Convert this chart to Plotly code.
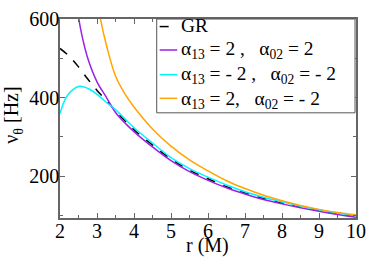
import plotly.graph_objects as go

# ---- data ----
r_gr = [2, 2.25, 2.5, 2.75, 3, 3.25, 3.5, 4, 4.5, 5, 5.5, 6, 6.5, 7, 7.5, 8, 8.5, 9, 9.5, 10]
nu_gr = [525, 505, 478, 447, 418, 393, 366, 318, 279, 243, 215, 193, 173, 157, 143, 131, 121, 112, 104, 97]

r_p = [2.45, 2.5, 2.6, 2.75, 3, 3.25, 3.5, 4, 4.5, 5, 5.5, 6, 6.5, 7, 7.5, 8, 8.5, 9, 9.5, 10]
nu_p = [640, 605, 555, 500, 440, 401, 362, 313, 274, 239, 211, 189, 170, 154, 140, 129, 119, 110, 102, 95]

r_c = [2, 2.1, 2.2, 2.35, 2.5, 2.65, 2.8, 3, 3.25, 3.5, 4, 4.5, 5, 5.5, 6, 6.5, 7, 7.5, 8, 8.5, 9, 9.5, 10]
nu_c = [359, 387, 405, 420, 428, 427, 421, 408, 388, 369, 323, 284, 247, 219, 197, 177, 160, 146, 134, 123, 114, 106, 99]

r_o = [3.05, 3.1, 3.25, 3.5, 3.75, 4, 4.5, 5, 5.5, 6, 6.5, 7, 7.5, 8, 8.5, 9, 9.5, 10]
nu_o = [625, 597, 535, 455, 410, 376, 320, 276, 241, 213, 188, 168, 151, 137, 125, 115, 107, 101]

legend_labels = [
    "GR",
    "α<sub>13</sub> = 2 ,&nbsp;&nbsp; α<sub>02</sub> = 2",
    "α<sub>13</sub> = - 2 ,&nbsp;&nbsp; α<sub>02</sub> = - 2",
    "α<sub>13</sub> = 2,&nbsp;&nbsp; α<sub>02</sub> = - 2",
]
colors = ["black", "#9b1fe8", "#00f5ff", "#ffa500"]
dashes = ["dash", "solid", "solid", "solid"]

series = [(r_gr, nu_gr), (r_p, nu_p), (r_c, nu_c), (r_o, nu_o)]

FONT = "Liberation Serif, Times New Roman, Times, serif"
fig = go.Figure()
for (xs, ys), col, da, name in zip(series, colors, dashes, legend_labels):
    fig.add_trace(go.Scatter(x=xs, y=ys, mode="lines", name=name,
                             line=dict(color=col, width=1.5, dash=da, shape="spline", smoothing=1.0),
                             showlegend=False))

W, H = 374, 260
ml, mr, mt, mb = 60, 11, 8, 42
pw, ph = W - ml - mr, H - mt - mb


def fx(px):
    return (px - ml) / pw


def fy(py):
    return (H - mb - py) / ph


shapes = [dict(type="rect", xref="paper", yref="paper",
               x0=fx(159), x1=fx(362), y0=fy(107), y1=fy(8),
               line=dict(color="#555", width=1), fillcolor="white", layer="above")]
annotations = []
row_y = [16, 40.7, 66.7, 91.7]
text_y = [15, 41, 67, 93]
for i, (lab, col, da) in enumerate(zip(legend_labels, colors, dashes)):
    shapes.append(dict(type="line", xref="paper", yref="paper",
                       x0=fx(162), x1=fx(180), y0=fy(row_y[i]), y1=fy(row_y[i]),
                       line=dict(color=col, width=1.5, dash="dash" if da == "dash" else "solid"),
                       layer="above"))
    annotations.append(dict(xref="paper", yref="paper", x=fx(182), y=fy(text_y[i]),
                            xanchor="left", yanchor="middle", showarrow=False,
                            text=lab, font=dict(family=FONT, size=19.4, color="black")))

# axis titles
annotations.append(dict(xref="paper", yref="paper", x=fx(211), y=fy(261),
                        xanchor="center", yanchor="bottom", showarrow=False,
                        text="r (M)", font=dict(family=FONT, size=20, color="black")))
annotations.append(dict(xref="paper", yref="paper", x=fx(12), y=fy(110),
                        xanchor="center", yanchor="middle", showarrow=False, textangle=-90,
                        text="ν<sub>θ</sub> [Hz]", font=dict(family=FONT, size=20, color="black")))

axis_common = dict(showline=True, linecolor="#666", linewidth=1.5, mirror="allticks",
                   ticks="inside", ticklen=5, tickcolor="#666", tickwidth=1,
                   showgrid=False, zeroline=False, ticklabeloverflow="allow",
                   tickfont=dict(family=FONT, size=20, color="black"))

fig.update_layout(
    width=W, height=H,
    margin=dict(l=ml, r=mr, t=mt, b=mb),
    paper_bgcolor="white", plot_bgcolor="white",
    xaxis=dict(range=[2, 10], tickvals=[2, 3, 4, 5, 6, 7, 8, 9, 10],
               minor=dict(ticks="inside", ticklen=3, tickcolor="#666", dtick=0.5, tick0=2),
               ticklabelstandoff=-6,
               **axis_common),
    yaxis=dict(range=[93, 600.01], tickvals=[200, 400, 600],
               minor=dict(ticks="inside", ticklen=3, tickcolor="#666", dtick=100, tick0=0),
               ticklabelstandoff=-5,
               **axis_common),
    shapes=shapes, annotations=annotations,
)

fig.write_html("out.html", config={"displayModeBar": False},
               post_script="document.body.style.margin='0';")
